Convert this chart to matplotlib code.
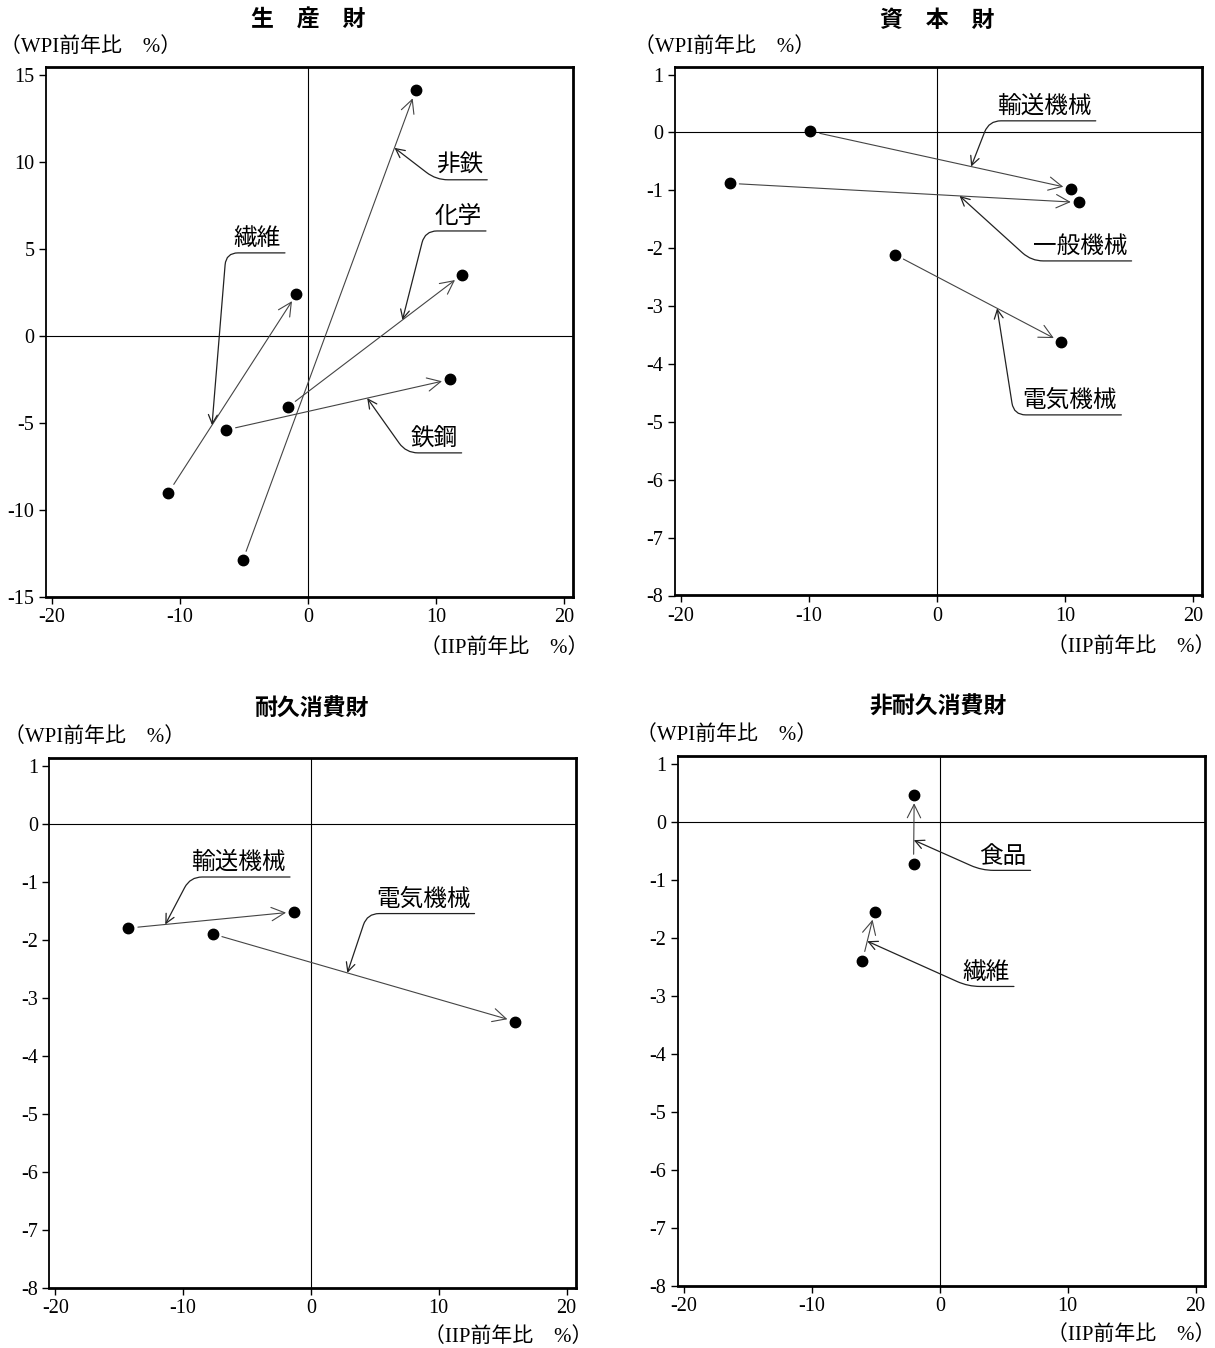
import math
import matplotlib
matplotlib.use('Agg')
import matplotlib.pyplot as plt

plt.rcParams['font.family'] = ['Liberation Serif', 'Noto Sans CJK JP']
plt.rcParams['axes.unicode_minus'] = False

# ---------------------------------------------------
# Data (IIP前年比 -> x, WPI前年比 -> y), start and end of each arrow
# ---------------------------------------------------
# 生産財
prod_names = ['繊維', '非鉄', '化学', '鉄鋼']
prod_x0 = [-10.9, -5.1, -1.6, -6.4]
prod_y0 = [-9.0, -12.9, -4.1, -5.4]
prod_x1 = [-0.9, 8.4, 12.0, 11.1]
prod_y1 = [2.4, 14.1, 3.5, -2.5]

# 資本財
cap_names = ['輸送機械', '一般機械', '電気機械']
cap_x0 = [-9.9, -16.2, -3.3]
cap_y0 = [0.02, -0.88, -2.11]
cap_x1 = [10.5, 11.1, 9.7]
cap_y1 = [-0.97, -1.21, -3.62]

# 耐久消費財
dur_names = ['輸送機械', '電気機械']
dur_x0 = [-14.3, -7.7]
dur_y0 = [-1.8, -1.9]
dur_x1 = [-1.3, 16.0]
dur_y1 = [-1.52, -3.41]

# 非耐久消費財
nondur_names = ['食品', '繊維']
nondur_x0 = [-2.05, -6.05]
nondur_y0 = [-0.73, -2.4]
nondur_x1 = [-2.0, -5.1]
nondur_y1 = [0.46, -1.55]

x_ticks = [-20, -10, 0, 10, 20]

# label placement: underline left x, right x, y, and where the leader hits the arrow (fraction)
prod_lab = [(-6.4, -1.8, 4.77, 0.34), (10.0, 14.0, 8.97, 0.878),
            (9.14, 13.9, 6.03, 0.66), (7.66, 12.0, -6.72, 0.63)]
cap_lab = [(4.06, 12.4, 0.2, 0.616), (7.37, 15.2, -2.22, 0.658),
           (6.0, 14.4, -4.88, 0.615)]
dur_lab = [(-9.45, -1.64, -0.92, 0.223), (4.4, 12.8, -1.55, 0.445)]
nondur_lab = [(3.28, 7.1, -0.84, 0.345), (2.22, 5.8, -2.84, 0.40)]

W, H = 1215, 1348
fig = plt.figure(figsize=(W / 100, H / 100), dpi=100)


def px_axes(l, t, r, b):
    return fig.add_axes([l / W, 1 - b / H, (r - l) / W, (b - t) / H])


def draw_panel(ax, names, x0, y0, x1, y1, labs, ylim, yticks):
    ax.set_xlim(-20.5, 20.7)
    ax.set_ylim(*ylim)
    ax.set_xticks(x_ticks)
    ax.set_xticklabels([str(v) for v in x_ticks])
    ax.set_yticks(yticks)
    ax.set_yticklabels([str(v) for v in yticks])
    ax.tick_params(direction='out', length=5, width=1, labelsize=14.5,
                   top=False, right=False, pad=3)
    for s in ['top', 'right', 'bottom']:
        ax.spines[s].set_linewidth(2.0)
    ax.spines['left'].set_linewidth(1.3)
    ax.axhline(0, color='black', lw=0.8, zorder=1)
    ax.axvline(0, color='black', lw=0.8, zorder=1)

    ax.plot(x0, y0, 'o', color='black', ms=7.5, zorder=3)
    ax.plot(x1, y1, 'o', color='black', ms=7.5, zorder=3)
    for i in range(len(names)):
        ax.annotate('', xy=(x1[i], y1[i]), xytext=(x0[i], y0[i]),
                    arrowprops=dict(arrowstyle='->', color='#444444', lw=0.8,
                                    shrinkA=7, shrinkB=6, mutation_scale=24))

    # labels with leader lines
    for i, (ux0, ux1, uy, t) in enumerate(labs):
        tx = x0[i] + t * (x1[i] - x0[i])
        ty = y0[i] + t * (y1[i] - y0[i])
        cx, cy = ax.transData.transform((ux0, uy))
        px, py = ax.transData.transform((tx, ty))
        angB = math.degrees(math.atan2(cy - py, cx - px))
        ax.annotate('', xy=(tx, ty), xytext=(ux1, uy),
                    arrowprops=dict(arrowstyle='->', color='#222222', lw=0.9,
                                    shrinkA=0, shrinkB=0, mutation_scale=16,
                                    connectionstyle=f'angle,angleA=0,angleB={angB:.2f},rad=12'))
        ax.annotate(names[i], xy=(ux1, uy), xytext=(-3, 2), textcoords='offset points',
                    ha='right', va='bottom', fontsize=17, family='Noto Sans CJK JP')


def fig_text(x, y, s, **kw):
    fig.text(x / W, 1 - y / H, s, **kw)


ax1 = px_axes(45.6, 67, 573, 597)
draw_panel(ax1, prod_names, prod_x0, prod_y0, prod_x1, prod_y1, prod_lab,
           (-15, 15.45), [-15, -10, -5, 0, 5, 10, 15])
ax2 = px_axes(674.6, 67, 1202, 595.5)
draw_panel(ax2, cap_names, cap_x0, cap_y0, cap_x1, cap_y1, cap_lab,
           (-8, 1.13), list(range(-8, 2)))
ax3 = px_axes(49, 758, 575.5, 1288)
draw_panel(ax3, dur_names, dur_x0, dur_y0, dur_x1, dur_y1, dur_lab,
           (-8, 1.13), list(range(-8, 2)))
ax4 = px_axes(677.6, 756, 1204.5, 1286)
draw_panel(ax4, nondur_names, nondur_x0, nondur_y0, nondur_x1, nondur_y1, nondur_lab,
           (-8, 1.13), list(range(-8, 2)))

# titles
title_kw = dict(ha='center', va='center', fontsize=16.5, fontweight='bold',
                family='Noto Sans CJK JP')
fig_text(308, 20, '生　産　財', **title_kw)
fig_text(937, 20, '資　本　財', **title_kw)
fig_text(311, 709, '耐久消費財', **title_kw)
fig_text(938, 707, '非耐久消費財', **title_kw)

# axis captions
cap_kw = dict(va='center', fontsize=15)
for x, y in [(0, 47), (634, 47), (4, 737), (636, 735)]:
    fig_text(x, y, '（WPI前年比　%）', ha='left', **cap_kw)
for x, y in [(588, 648), (1215, 647), (592, 1337), (1215, 1335)]:
    fig_text(x, y, '（IIP前年比　%）', ha='right', **cap_kw)

fig.savefig('out.png', dpi=100)
